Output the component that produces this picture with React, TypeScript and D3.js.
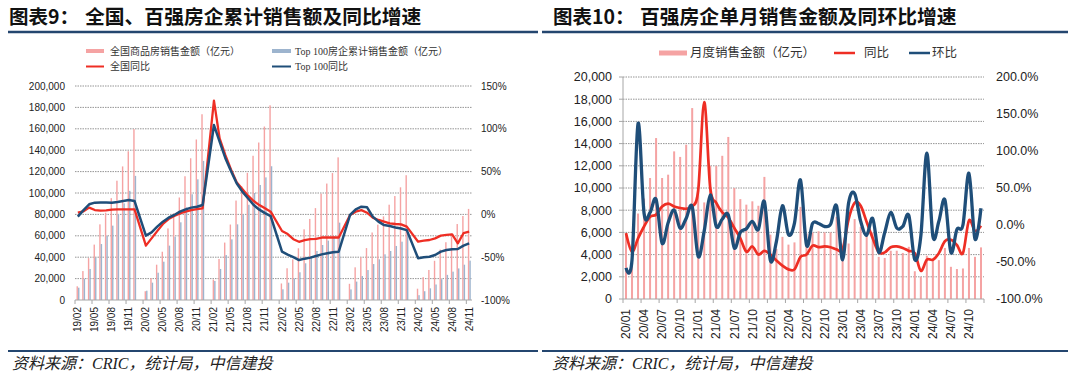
import React from 'react';
import * as d3 from 'd3';

// ---------- Left chart (图表9) ----------
const leftCats = [
  '19/02','19/03','19/04','19/05','19/06','19/07','19/08','19/09','19/10','19/11','19/12',
  '20/01','20/02','20/03','20/04','20/05','20/06','20/07','20/08','20/09','20/10','20/11','20/12',
  '21/01','21/02','21/03','21/04','21/05','21/06','21/07','21/08','21/09','21/10','21/11','21/12',
  '22/01','22/02','22/03','22/04','22/05','22/06','22/07','22/08','22/09','22/10','22/11','22/12',
  '23/01','23/02','23/03','23/04','23/05','23/06','23/07','23/08','23/09','23/10','23/11','23/12',
  '24/01','24/02','24/03','24/04','24/05','24/06','24/07','24/08','24/09','24/10','24/11',
];
const nationalSales: (number | null)[] = [
  12803, 27039, 39145, 51773, 70698, 81563, 95192, 111491, 124847, 139006, 159725,
  null, 8203, 20365, 33000, 45116, 66895, 81016, 95814, 115647, 132459, 150011, 173613,
  null, 19151, 38378, 53674, 70534, 92931, 106151, 118862, 134795, 147185, 162123, 181930,
  null, 15459, 29655, 37978, 48337, 66072, 75763, 85870, 99380, 108832, 118648, 133308,
  null, 15133, 30545, 39950, 48527, 63092, 70450, 78158, 89070, 97161, 105318, 116622,
  null, 10566, 21355, 28067, 36642, 47133, 54000, 62000, 71000, 78500, 85130,
];
const top100Sales: (number | null)[] = [
  11500, 20000, 29000, 39600, 52300, 60000, 69500, 80400, 90300, 102000, 116000,
  null, 8700, 16200, 25500, 35800, 50800, 59200, 72600, 86600, 98800, 112800, 130000,
  null, 17800, 29000, 42000, 56700, 70700, 80000, 89000, 100000, 107500, 114600, 125000,
  null, 10000, 16200, 20200, 25900, 34300, 39900, 45800, 51400, 55500, 59800, 72300,
  null, 9900, 17200, 22400, 28000, 33600, 38000, 42700, 45800, 50500, 54500, 62300,
  null, 4500, 8200, 10900, 14500, 19500, 23500, 26500, 29500, 33000, 36800,
];
const nationalYoY: (number | null)[] = [
  2.0, 3.6, 7.9, 5.1, 4.4, 4.8, 5.5, 5.9, 5.9, 5.9, 5.9,
  null, -36.5, -28, -19.5, -11.2, -5.4, -1.9, 1.2, 3.2, 5.1, 6.3, 7.1,
  null, 132.9, 88.9, 69.4, 52.6, 37.5, 29.7, 21.9, 15.6, 10.9, 7.1, 3.2,
  null, -19.4, -23, -29, -32, -30, -29, -28.7, -27, -27, -27, -27,
  null, -0.7, 3.2, 5, 2, -3.8, -6.5, -8.5, -10.4, -11.2, -11.6, -14.3,
  null, -31.9, -30.7, -29.9, -28, -24.8, -24, -23.3, -33.8, -22, -20.2,
];
const top100YoY: (number | null)[] = [
  -2.6, 5, 11.8, 13.7, 14, 14, 13.7, 14.5, 15.6, 16.8, 15.6,
  null, -24.8, -21, -14.3, -8.5, -3.8, -0.7, 3.2, 5.9, 7.9, 9, 11,
  null, 104.4, 85, 66, 50.6, 36.3, 26.6, 18.8, 11, 5.5, 1.5, -1.9,
  null, -43.5, -47, -50, -53.3, -51.7, -50.5, -48.6, -46.7, -45.5, -44.3, -43.5,
  null, -0.7, 5.8, 9, 8.3, -2.6, -8.5, -12.5, -13.6, -15.2, -16.4, -18.4,
  null, -51.3, -50, -49.4, -47.4, -43.5, -41.6, -40.8, -40.4, -36.5, -33.8,
];
const leftTicks = [0, 20000, 40000, 60000, 80000, 100000, 120000, 140000, 160000, 180000, 200000];
const leftRTicks = [-100, -50, 0, 50, 100, 150];

// ---------- Right chart (图表10) ----------
const rightCats = [
  '20/01','20/02','20/03','20/04','20/05','20/06','20/07','20/08','20/09','20/10','20/11','20/12',
  '21/01','21/02','21/03','21/04','21/05','21/06','21/07','21/08','21/09','21/10','21/11','21/12',
  '22/01','22/02','22/03','22/04','22/05','22/06','22/07','22/08','22/09','22/10','22/11','22/12',
  '23/01','23/02','23/03','23/04','23/05','23/06','23/07','23/08','23/09','23/10','23/11','23/12',
  '24/01','24/02','24/03','24/04','24/05','24/06','24/07','24/08','24/09','24/10','24/11','24/12',
];
const monthlySales = [
  5900, 3270, 7700, 9050, 10900, 14500, 10900, 11200, 13300, 12800, 13900, 17200,
  9800, 8700, 12000, 12000, 12900, 14600, 10000, 9000, 8500, 8800, 8400, 11000,
  5800, 4500, 5600, 4900, 5100, 8300, 5900, 6000, 6100, 6000, 6000, 7400,
  3900, 5000, 7200, 6500, 5800, 6000, 3800, 3700, 4350, 4350, 4150, 4700,
  2500, 2000, 3900, 3500, 3500, 4600, 2900, 2700, 2750, 4600, 3800, 4650,
];
const monthlyYoY = [
  -11, -36, -18, -2, 11, 14, 25, 29, 25, 23, 22, 25,
  47, 166, 50, 30, 17, 10, -4, -18, -36, -29, -40, -35,
  -40, -48, -55, -60, -60, -43, -40, -28, -30, -29, -30, -33,
  -33, 8, 30, 26, 4, -18, -37, -37, -30, -29, -31, -35,
  -38, -62, -47, -47, -38, -22, -20, -27, -38, 6, -8, -1,
];
const monthlyMoM = [
  -58, -47, 137, 16, 17, 34.7, -24.6, 3, 20.3, -4.4, 9, 24.8,
  -42.5, -8, 40.5, -2, 8, 13.6, -31, -10, -5, 5, -6, 31.6,
  -48, -22, 26, -13, 2.4, 60.8, -27, 2, 2, -2, 1, 25.7,
  -47, 30, 42.5, 5, -14, 9, -37, -10, 16.8, -4, -2, 13,
  -47, -15, 97, -15, 5, 34, -37, -6, 0, 70, -19, 22.6,
];
const rightTicks = [0, 2000, 4000, 6000, 8000, 10000, 12000, 14000, 16000, 18000, 20000];
const rightRTicks = [-100, -50, 0, 50, 100, 150, 200];

const RED = '#EE2E24';
const NAVY = '#1F4E79';
const PINK = '#F5A3A3';
const STEEL = '#9DB4CE';
const RULE = '#24466F';
const GRID = '#7a7a7a';
const NUM_FONT = "'Liberation Sans', Arial, sans-serif";
const CJK = "'Noto Sans CJK SC', sans-serif";

function LeftChart() {
  const x0 = 75, x1 = 472, yTop = 86, yBot = 300;
  const x = d3.scaleBand<string>().domain(leftCats).range([x0, x1]).padding(0);
  const y = d3.scaleLinear().domain([0, 200000]).range([yBot, yTop]);
  const yr = d3.scaleLinear().domain([-100, 150]).range([yBot, yTop]);
  const cx = (c: string) => (x(c) as number) + x.bandwidth() / 2;
  const step = x.step();

  const mk = (vals: (number | null)[]) => {
    const pts = leftCats.map((c, i) => ({ c, v: vals[i] })).filter(d => d.v != null) as { c: string; v: number }[];
    return d3.line<{ c: string; v: number }>().x(d => cx(d.c)).y(d => yr(d.v))(pts) || '';
  };
  const tickIdx = d3.range(0, leftCats.length + 1, 3);

  return (
    <g>
      {leftTicks.slice(1).map(t => (
        <line key={t} x1={x0} x2={x1} y1={y(t)} y2={y(t)} stroke={GRID} strokeWidth={0.8} strokeDasharray="1.5,1" />
      ))}
      {leftCats.map((c, i) => nationalSales[i] == null ? null : (
        <rect key={'n' + c} x={cx(c) - 1.3} width={1.4} y={y(nationalSales[i] as number)} height={yBot - y(nationalSales[i] as number)} fill={PINK} />
      ))}
      {leftCats.map((c, i) => top100Sales[i] == null ? null : (
        <rect key={'t' + c} x={cx(c) + 0.2} width={1.4} y={y(top100Sales[i] as number)} height={yBot - y(top100Sales[i] as number)} fill={STEEL} />
      ))}
      <line x1={x0} x2={x1} y1={yBot} y2={yBot} stroke="#a6a6a6" strokeWidth={1} />
      {tickIdx.map(k => (
        <line key={'tk' + k} x1={x0 + k * step} x2={x0 + k * step} y1={yBot} y2={yBot + 4} stroke="#a6a6a6" strokeWidth={1} />
      ))}
      <path d={mk(nationalYoY)} fill="none" stroke={RED} strokeWidth={2.3} strokeLinejoin="round" />
      <path d={mk(top100YoY)} fill="none" stroke={NAVY} strokeWidth={2.5} strokeLinejoin="round" />
      {leftTicks.map(t => (
        <text key={'yl' + t} x={65} y={y(t)} dy="0.35em" textAnchor="end" fontSize={10} fontFamily={NUM_FONT} fill="#222">
          {d3.format(',')(t)}
        </text>
      ))}
      {leftRTicks.map(t => (
        <text key={'yr' + t} x={481} y={yr(t)} dy="0.35em" textAnchor="start" fontSize={10} fontFamily={NUM_FONT} fill="#222">
          {t + '%'}
        </text>
      ))}
      {leftCats.map((c, i) => i % 3 !== 0 ? null : (
        <text key={'xl' + c} transform={`translate(${cx(c)},${307}) rotate(-90)`} dy="0.35em" textAnchor="end" fontSize={10} fontFamily={NUM_FONT} fill="#222">
          {c}
        </text>
      ))}
      {/* legend */}
      <rect x={86} y={49} width={18} height={4} fill={PINK} />
      <text x={110} y={51} dy="0.35em" fontSize={10} fontFamily={"'Liberation Serif', " + CJK} fill="#333">全国商品房销售金额（亿元）</text>
      <rect x={272} y={49} width={19} height={4} fill={STEEL} />
      <text x={295} y={51} dy="0.35em" fontSize={10} fontFamily={"'Liberation Serif', " + CJK} fill="#333">Top 100房企累计销售金额（亿元）</text>
      <line x1={86} x2={104} y1={66.5} y2={66.5} stroke={RED} strokeWidth={2} />
      <text x={110} y={66.5} dy="0.35em" fontSize={10} fontFamily={"'Liberation Serif', " + CJK} fill="#333">全国同比</text>
      <line x1={272} x2={291} y1={66.5} y2={66.5} stroke={NAVY} strokeWidth={2} />
      <text x={295} y={66.5} dy="0.35em" fontSize={10} fontFamily={"'Liberation Serif', " + CJK} fill="#333">Top 100同比</text>
    </g>
  );
}

function RightChart() {
  const x0 = 623, x1 = 984, yTop = 77, yBot = 299;
  const x = d3.scaleBand<string>().domain(rightCats).range([x0, x1]).padding(0);
  const y = d3.scaleLinear().domain([0, 20000]).range([yBot, yTop]);
  const yr = d3.scaleLinear().domain([-100, 200]).range([yBot, yTop]);
  const cx = (c: string) => (x(c) as number) + x.bandwidth() / 2;
  const step = x.step();
  const mk = (vals: number[]) =>
    d3.line<number>().x((_, i) => cx(rightCats[i])).y(v => yr(v)).curve(d3.curveCatmullRom.alpha(0))(vals) || '';
  const tickIdx = d3.range(0, rightCats.length + 1, 3);

  return (
    <g>
      {rightTicks.slice(1).map(t => (
        <line key={t} x1={x0} x2={x1} y1={y(t)} y2={y(t)} stroke={GRID} strokeWidth={0.8} strokeDasharray="1.5,1" />
      ))}
      {rightCats.map((c, i) => (
        <rect key={'b' + c} x={cx(c) - 1} width={2} y={y(monthlySales[i])} height={yBot - y(monthlySales[i])} fill={PINK} />
      ))}
      <line x1={x0} x2={x1} y1={yBot} y2={yBot} stroke="#a6a6a6" strokeWidth={1} />
      <line x1={x0} x2={x0} y1={yTop} y2={yBot} stroke="#a6a6a6" strokeWidth={1} />
      {rightTicks.map(t => (
        <line key={'lt' + t} x1={x0 - 4} x2={x0} y1={y(t)} y2={y(t)} stroke="#a6a6a6" strokeWidth={1} />
      ))}
      {tickIdx.map(k => (
        <line key={'tk' + k} x1={x0 + k * step} x2={x0 + k * step} y1={yBot} y2={yBot + 4} stroke="#a6a6a6" strokeWidth={1} />
      ))}
      <path d={mk(monthlyYoY)} fill="none" stroke={RED} strokeWidth={2.7} strokeLinejoin="round" />
      <path d={mk(monthlyMoM)} fill="none" stroke={NAVY} strokeWidth={3.3} strokeLinejoin="round" />
      {rightTicks.map(t => (
        <text key={'yl' + t} x={612} y={y(t)} dy="0.35em" textAnchor="end" fontSize={12.5} fontFamily={NUM_FONT} fill="#222">
          {d3.format(',')(t)}
        </text>
      ))}
      {rightRTicks.map(t => (
        <text key={'yr' + t} x={996} y={yr(t)} dy="0.35em" textAnchor="start" fontSize={12.5} fontFamily={NUM_FONT} fill="#222">
          {t.toFixed(1) + '%'}
        </text>
      ))}
      {rightCats.map((c, i) => i % 3 !== 0 ? null : (
        <text key={'xl' + c} transform={`translate(${cx(c)},${309}) rotate(-90)`} dy="0.35em" textAnchor="end" fontSize={12} fontFamily={NUM_FONT} fill="#222">
          {c}
        </text>
      ))}
      {/* legend */}
      <rect x={659} y={50.5} width={28} height={5} fill={PINK} />
      <text x={690} y={53} dy="0.35em" fontSize={12.5} fontFamily={CJK} fill="#333">月度销售金额（亿元）</text>
      <line x1={834} x2={855} y1={53} y2={53} stroke={RED} strokeWidth={2.5} />
      <text x={864} y={53} dy="0.35em" fontSize={12.5} fontFamily={CJK} fill="#333">同比</text>
      <line x1={909} x2={930} y1={53} y2={53} stroke={NAVY} strokeWidth={2.5} />
      <text x={932} y={53} dy="0.35em" fontSize={12.5} fontFamily={CJK} fill="#333">环比</text>
    </g>
  );
}

export default function App() {
  return (
    <svg width={1080} height={375} style={{ position: 'absolute', left: 0, top: 0, background: '#fff' }}>
      <rect width={1080} height={375} fill="#fff" />
      {/* titles */}
      <text x={9} y={24} fontSize={19.5} fontWeight={700} fontFamily={CJK} fill="#111">图表9：</text>
      <text x={85} y={24} fontSize={19.8} fontWeight={700} fontFamily={CJK} fill="#111">全国、百强房企累计销售额及同比增速</text>
      <text x={553} y={24} fontSize={19.5} fontWeight={700} fontFamily={CJK} fill="#111">图表10：</text>
      <text x={640} y={24} fontSize={19.8} fontWeight={700} fontFamily={CJK} fill="#111">百强房企单月销售金额及同环比增速</text>
      <line x1={8} x2={538} y1={32} y2={32} stroke={RULE} strokeWidth={2.5} />
      <line x1={542} x2={1068} y1={32} y2={32} stroke={RULE} strokeWidth={2.5} />
      <LeftChart />
      <RightChart />
      <line x1={8} x2={538} y1={351} y2={351} stroke={RULE} strokeWidth={1.8} />
      <line x1={542} x2={1068} y1={351} y2={351} stroke={RULE} strokeWidth={1.8} />
      <text x={12} y={369} fontSize={16} fontStyle="italic" fontFamily={"'Liberation Serif', " + CJK} fill="#222">资料来源：CRIC，统计局，中信建投</text>
      <text x={552} y={369} fontSize={16} fontStyle="italic" fontFamily={"'Liberation Serif', " + CJK} fill="#222">资料来源：CRIC，统计局，中信建投</text>
    </svg>
  );
}
